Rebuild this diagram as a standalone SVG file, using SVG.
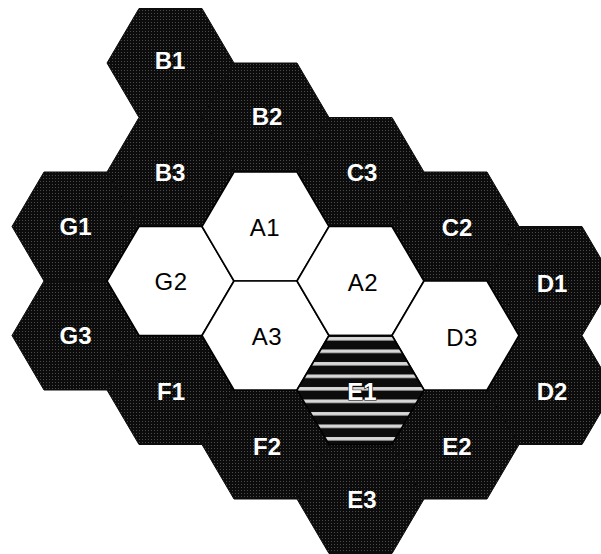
<svg xmlns="http://www.w3.org/2000/svg" width="601" height="554" viewBox="0 0 601 554">
  <defs>
    <pattern id="speckle" patternUnits="userSpaceOnUse" width="3" height="3">
      <rect width="3" height="3" fill="#0c0c0c"/>
      <rect x="1" y="1" width="1" height="1" fill="#4a4a4a"/>
    </pattern>
    <pattern id="stripes" patternUnits="userSpaceOnUse" x="0" y="336" width="12" height="12.5">
      <rect width="12" height="12.5" fill="#0c0c0c"/>
      <rect x="0" y="1" width="12" height="3.5" fill="#d8d8d8"/>
    </pattern>
  </defs>
  <style>
    .dark { fill: url(#speckle); stroke: #0c0c0c; stroke-width: 1; }
    .light { fill: #ffffff; stroke: #000000; stroke-width: 1.6; stroke-linejoin: round; }
    .striped { fill: url(#stripes); stroke: #000000; stroke-width: 1.6; }
    .wl { font-family: "Liberation Sans", Arial, sans-serif; font-weight: bold; font-size: 24px; fill: #ffffff; text-anchor: middle; }
    .bl { font-family: "Liberation Sans", Arial, sans-serif; font-size: 24px; fill: #000000; text-anchor: middle; letter-spacing: 0.5px; }
    .el { font-family: "Liberation Sans", Arial, sans-serif; font-weight: bold; font-size: 24px; fill: #ffffff; stroke: #000000; stroke-width: 1.2; paint-order: stroke; text-anchor: middle; }
  </style>

  <g id="G1"><polygon class="dark" points="12,226.5 44,172 107,172 139,226.5 107,281 44,281"/><text class="wl" x="75.5" y="235">G1</text></g>
  <g id="G3"><polygon class="dark" points="12,335.5 44,281 107,281 139,335.5 107,390 44,390"/><text class="wl" x="75.5" y="344">G3</text></g>
  <g id="B1"><polygon class="dark" points="107,63 139,8.5 202,8.5 234,63 202,117.5 139,117.5"/><text class="wl" x="170" y="69">B1</text></g>
  <g id="B3"><polygon class="dark" points="107,172 139,117.5 202,117.5 234,172 202,226.5 139,226.5"/><text class="wl" x="170" y="181">B3</text></g>
  <g id="F1"><polygon class="dark" points="107,390 139,335.5 202,335.5 234,390 202,444.5 139,444.5"/><text class="wl" x="171" y="400">F1</text></g>
  <g id="B2"><polygon class="dark" points="202,117.5 234,63 297,63 329,117.5 297,172 234,172"/><text class="wl" x="267" y="125">B2</text></g>
  <g id="F2"><polygon class="dark" points="202,444.5 234,390 297,390 329,444.5 297,499 234,499"/><text class="wl" x="267" y="455">F2</text></g>
  <g id="C3"><polygon class="dark" points="297,172 329,117.5 392,117.5 424,172 392,226.5 329,226.5"/><text class="wl" x="362" y="181">C3</text></g>
  <g id="E3"><polygon class="dark" points="297,499 329,444.5 392,444.5 424,499 392,553.5 329,553.5"/><text class="wl" x="362" y="508">E3</text></g>
  <g id="C2"><polygon class="dark" points="392,226.5 424,172 487,172 519,226.5 487,281 424,281"/><text class="wl" x="457" y="236">C2</text></g>
  <g id="E2"><polygon class="dark" points="392,444.5 424,390 487,390 519,444.5 487,499 424,499"/><text class="wl" x="457" y="455">E2</text></g>
  <g id="D1"><polygon class="dark" points="487,281 519,226.5 582,226.5 614,281 582,335.5 519,335.5"/><text class="wl" x="552" y="292">D1</text></g>
  <g id="D2"><polygon class="dark" points="487,390 519,335.5 582,335.5 614,390 582,444.5 519,444.5"/><text class="wl" x="552" y="400">D2</text></g>

  <g id="G2"><polygon class="light" points="107,281 139,226.5 202,226.5 234,281 202,335.5 139,335.5"/><text class="bl" x="171" y="290">G2</text></g>
  <g id="A1"><polygon class="light" points="202,226.5 234,172 297,172 329,226.5 297,281 234,281"/><text class="bl" x="265" y="236">A1</text></g>
  <g id="A3"><polygon class="light" points="202,335.5 234,281 297,281 329,335.5 297,390 234,390"/><text class="bl" x="267" y="345">A3</text></g>
  <g id="A2"><polygon class="light" points="297,281 329,226.5 392,226.5 424,281 392,335.5 329,335.5"/><text class="bl" x="363" y="291">A2</text></g>
  <g id="D3"><polygon class="light" points="392,335.5 424,281 487,281 519,335.5 487,390 424,390"/><text class="bl" x="462" y="346">D3</text></g>
  <g id="E1"><polygon class="striped" points="297,390 329,335.5 392,335.5 424,390 392,444.5 329,444.5"/><text class="el" x="362" y="400">E1</text></g>

  <g id="connectors"/>
</svg>
